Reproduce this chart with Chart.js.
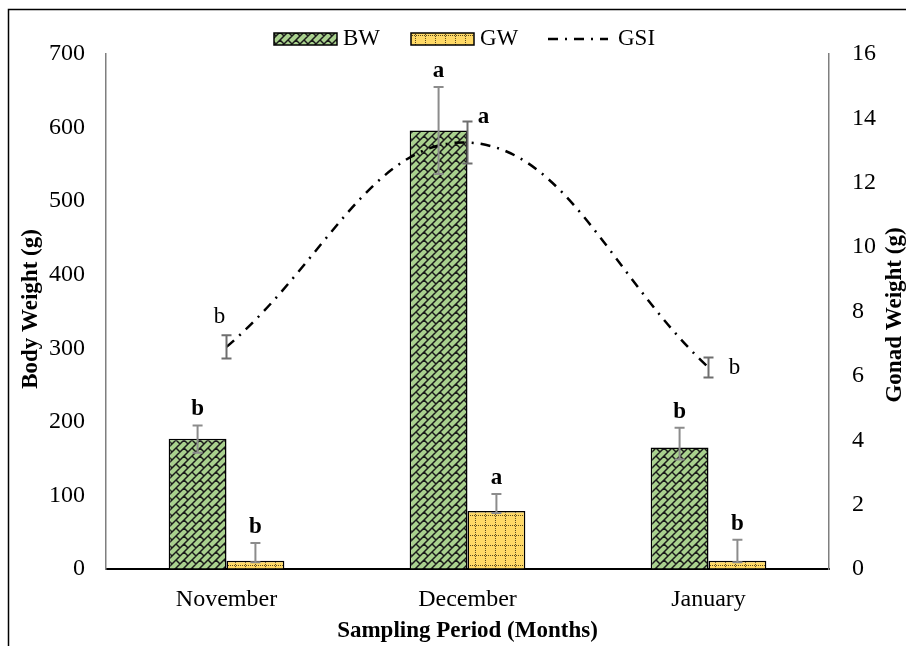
<!DOCTYPE html>
<html>
<head>
<meta charset="utf-8">
<script src="https://cdn.jsdelivr.net/npm/chart.js@4.4.0/dist/chart.umd.min.js"></script>
<style>
  html, body { margin: 0; padding: 0; background: #fff; }
  #wrap { width: 906px; height: 646px; position: relative; }
</style>
</head>
<body>
<div id="wrap"><canvas id="grafico"></canvas></div>
<script>
// data
const months = ['November', 'December', 'January'];
const bodyWeight = [177, 596, 165];
const bodyWeightErrUp = [18, 59, 27];
const bodyWeightErrDown = [19, 59, 16];
const gonadWeight = [0.26, 1.8, 0.26];
const gonadWeightErrUp = [0.55, 0.53, 0.65];
const gonadWeightErrDown = [0.05, 0.06, 0.05];
const gsi = [6.9, 13.25, 6.26];
const gsiErr = [0.36, 0.65, 0.31];
const bwLetters = ['b', 'a', 'b'];
const gwLetters = ['b', 'a', 'b'];
const gsiLetters = ['b', 'a', 'b'];
const bodyTicks = [0, 100, 200, 300, 400, 500, 600, 700];
const gonadTicks = [0, 2, 4, 6, 8, 10, 12, 14, 16];

const SERIF = '"Liberation Serif", "Times New Roman", serif';

function brickPattern() {
    const s = 16;
    const c = document.createElement('canvas');
    c.width = s; c.height = s;
    const g = c.getContext('2d');
    g.fillStyle = '#a9d18e';
    g.fillRect(0, 0, s, s);
    g.strokeStyle = '#1a1a1a';
    g.lineWidth = 1.5;
    g.beginPath();
    for (let k = -32; k <= 48; k += 8) {
        g.moveTo(-20, k + 20);
        g.lineTo(k + 20, -20);
        const even = ((k / 8) % 2 + 2) % 2 === 0;
        for (let d = -48; d <= 48; d += 16) {
            const dd = even ? d : d + 8;
            g.moveTo((k + dd) / 2, (k - dd) / 2);
            g.lineTo((k + 8 + dd) / 2, (k + 8 - dd) / 2);
        }
    }
    g.stroke();
    return g.createPattern(c, 'repeat');
}

function gridPattern() {
    const s = 10;
    const c = document.createElement('canvas');
    c.width = s; c.height = s;
    const g = c.getContext('2d');
    g.fillStyle = '#ffd966';
    g.fillRect(0, 0, s, s);
    g.fillStyle = '#5a4a20';
    for (let i = 0; i < s; i += 2) {
        g.fillRect(5, i, 1, 1);
        g.fillRect(i, 5, 1, 1);
    }
    return g.createPattern(c, 'repeat');
}

const bwFill = brickPattern();
const gwFill = gridPattern();
const gsiDash = [10, 7, 2, 7];

function drawErr(ctx, x, yTop, yBot, color, width, cap) {
    ctx.save();
    ctx.strokeStyle = color;
    ctx.lineWidth = width;
    ctx.beginPath();
    ctx.moveTo(x, yTop); ctx.lineTo(x, yBot);
    ctx.moveTo(x - cap, yTop); ctx.lineTo(x + cap, yTop);
    ctx.moveTo(x - cap, yBot); ctx.lineTo(x + cap, yBot);
    ctx.stroke();
    ctx.restore();
}

function text(ctx, str, x, y, font, align, rot) {
    ctx.save();
    ctx.translate(x, y);
    if (rot) ctx.rotate(rot);
    ctx.font = font;
    ctx.fillStyle = '#000';
    ctx.textAlign = align || 'center';
    ctx.textBaseline = 'middle';
    ctx.fillText(str, 0, 0);
    ctx.restore();
}

const extras = {
    id: 'extras',
    afterDatasetsDraw(chart) {
        const ctx = chart.ctx;
        const yL = chart.scales.y, yR = chart.scales.y1;
        const bw = chart.getDatasetMeta(0).data;
        const gw = chart.getDatasetMeta(1).data;
        const ln = chart.getDatasetMeta(2).data;
        const bold = 'bold 23px ' + SERIF;
        months.forEach((m, i) => {
            // body weight
            const t1 = yL.getPixelForValue(bodyWeight[i] + bodyWeightErrUp[i]);
            drawErr(ctx, bw[i].x, t1, yL.getPixelForValue(bodyWeight[i] - bodyWeightErrDown[i]), '#8c8c8c', 2, 5);
            text(ctx, bwLetters[i], bw[i].x, t1 - 16, bold);
            // gonad weight
            const t2 = yR.getPixelForValue(gonadWeight[i] + gonadWeightErrUp[i]);
            drawErr(ctx, gw[i].x, t2, yR.getPixelForValue(gonadWeight[i] - gonadWeightErrDown[i]), '#8c8c8c', 2, 5);
            text(ctx, gwLetters[i], gw[i].x, t2 - 16, bold);
            // gsi
            const t3 = yR.getPixelForValue(gsi[i] + gsiErr[i]);
            const b3 = yR.getPixelForValue(gsi[i] - gsiErr[i]);
            drawErr(ctx, ln[i].x, t3, b3, '#6e6e6e', 2, 5);
        });
        const reg = '23px ' + SERIF;
        text(ctx, gsiLetters[0], ln[0].x - 7, yR.getPixelForValue(gsi[0] + gsiErr[0]) - 18, reg);
        text(ctx, gsiLetters[1], ln[1].x + 16, yR.getPixelForValue(gsi[1] + gsiErr[1]) - 5, bold);
        text(ctx, gsiLetters[2], ln[2].x + 26, yR.getPixelForValue(gsi[2]), reg);
    },
    afterDraw(chart) {
        const ctx = chart.ctx;
        const area = chart.chartArea;
        // outer frame
        ctx.save();
        ctx.strokeStyle = '#000';
        ctx.lineWidth = 1.5;
        ctx.beginPath();
        ctx.moveTo(8.5, 646); ctx.lineTo(8.5, 9.5); ctx.lineTo(906, 9.5);
        ctx.stroke();
        ctx.restore();

        // axis titles
        const bold = 'bold 23px ' + SERIF;
        text(ctx, 'Body Weight (g)', 31, 309, bold, 'center', -Math.PI / 2);
        text(ctx, 'Gonad Weight (g)', 895, 315, bold, 'center', -Math.PI / 2);
        text(ctx, 'Sampling Period (Months)', (area.left + area.right) / 2, 631, bold);

        // legend
        ctx.save();
        ctx.lineWidth = 1.5;
        ctx.strokeStyle = '#000';
        ctx.fillStyle = bwFill;
        ctx.fillRect(274, 33, 63, 12);
        ctx.strokeRect(274, 33, 63, 12);
        ctx.fillStyle = gwFill;
        ctx.fillRect(411, 33, 63, 12);
        ctx.strokeRect(411, 33, 63, 12);
        ctx.lineWidth = 2.5;
        ctx.setLineDash(gsiDash);
        ctx.beginPath();
        ctx.moveTo(548, 39); ctx.lineTo(608, 39);
        ctx.stroke();
        ctx.restore();
        const leg = '23px ' + SERIF;
        text(ctx, 'BW', 343, 39, leg, 'left');
        text(ctx, 'GW', 480, 39, leg, 'left');
        text(ctx, 'GSI', 618, 39, leg, 'left');
    }
};

new Chart(document.getElementById('grafico').getContext('2d'), {
    type: 'bar',
    data: {
        labels: months,
        datasets: [
            {
                label: 'BW',
                data: bodyWeight,
                yAxisID: 'y',
                backgroundColor: bwFill,
                borderColor: '#000',
                borderWidth: 1.5,
                order: 1
            },
            {
                label: 'GW',
                data: gonadWeight,
                yAxisID: 'y1',
                backgroundColor: gwFill,
                borderColor: '#000',
                borderWidth: 1.5,
                order: 1
            },
            {
                type: 'line',
                label: 'GSI',
                data: gsi,
                yAxisID: 'y1',
                borderColor: '#000',
                borderWidth: 2.5,
                borderDash: gsiDash,
                tension: 0.4,
                pointRadius: 0,
                fill: false,
                order: 0
            }
        ]
    },
    options: {
        responsive: true,
        maintainAspectRatio: false,
        animation: false,
        layout: { padding: { top: 54, left: 0, right: 0, bottom: 0 } },
        datasets: {
            bar: { categoryPercentage: 0.48, barPercentage: 1.0 }
        },
        scales: {
            x: {
                afterFit: function (scale) { scale.height = 77; },
                grid: { display: false },
                border: { display: true, color: '#000', width: 2 },
                ticks: { color: '#000', padding: 8, font: { family: SERIF, size: 24 } }
            },
            y: {
                position: 'left',
                min: 0,
                max: 700,
                afterBuildTicks: function (scale) { scale.ticks = bodyTicks.map(v => ({ value: v })); },
                afterFit: function (scale) { scale.width = 106; },
                grid: { drawOnChartArea: false, drawTicks: false },
                border: { display: true, color: '#7f7f7f', width: 1.5 },
                ticks: { color: '#000', padding: 21, font: { family: SERIF, size: 24 } }
            },
            y1: {
                position: 'right',
                min: 0,
                max: 16,
                afterBuildTicks: function (scale) { scale.ticks = gonadTicks.map(v => ({ value: v })); },
                afterFit: function (scale) { scale.width = 77; },
                grid: { drawOnChartArea: false, drawTicks: false },
                border: { display: true, color: '#7f7f7f', width: 1.5 },
                ticks: { color: '#000', padding: 23, font: { family: SERIF, size: 24 } }
            }
        },
        plugins: {
            legend: { display: false },
            tooltip: { enabled: false }
        }
    },
    plugins: [extras]
});
</script>
</body>
</html>
